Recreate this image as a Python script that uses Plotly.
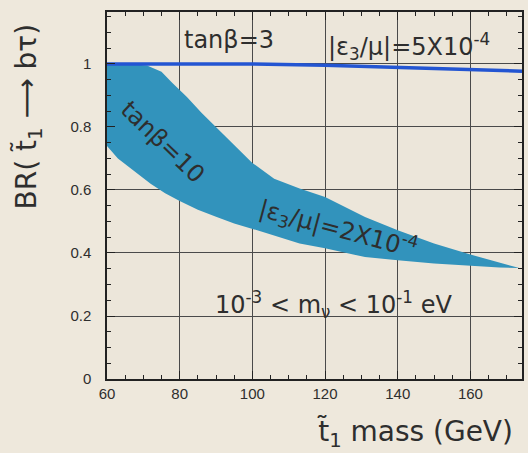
import plotly.graph_objects as go

# Band (tanβ=10, |ε3/μ|=2x10^-4) upper and lower boundaries
band_upper_x = [60, 66, 71, 75, 78, 82, 86, 90, 94, 100, 106, 113, 120, 131, 140, 150, 160, 168, 173.5]
band_upper_y = [1.0, 1.0, 0.995, 0.975, 0.94, 0.895, 0.845, 0.80, 0.755, 0.686, 0.636, 0.605, 0.578, 0.514, 0.472, 0.43, 0.395, 0.37, 0.353]
band_lower_x = [60, 63, 67, 72, 76, 80, 85, 90, 95, 104, 113, 120, 131, 140, 150, 160, 168, 173.5]
band_lower_y = [0.74, 0.70, 0.663, 0.62, 0.59, 0.565, 0.537, 0.515, 0.494, 0.463, 0.43, 0.415, 0.387, 0.377, 0.367, 0.36, 0.354, 0.352]

# Line (tanβ=3, |ε3/μ|=5x10^-4)
line_x = [60, 100, 120, 140, 160, 174.2]
line_y = [1.0, 1.0, 0.996, 0.99, 0.983, 0.977]

x_ticks = [60, 80, 100, 120, 140, 160]
y_ticks = [0, 0.2, 0.4, 0.6, 0.8, 1.0]
y_ticklabels = ["0", "0.2", "0.4", "0.6", "0.8", "1"]

FONT = "Liberation Sans, Arial, sans-serif"
AFONT = "DejaVu Sans, sans-serif"
BG = "#eee8dc"
TXT = "#2e2e2e"

fig = go.Figure()
fig.add_trace(go.Scatter(
    x=band_upper_x + band_lower_x[::-1],
    y=band_upper_y + band_lower_y[::-1],
    fill="toself", fillcolor="rgb(50,147,188)",
    line=dict(width=0), mode="lines", hoverinfo="skip", showlegend=False,
))
fig.add_trace(go.Scatter(
    x=line_x, y=line_y, mode="lines",
    line=dict(color="rgb(35,85,210)", width=3.5), showlegend=False,
))

axis_common = dict(
    showline=True, linecolor="#222", linewidth=1.5, mirror="allticks",
    ticks="inside", ticklen=8, tickcolor="#222", tickwidth=1,
    showgrid=True, gridcolor="#4a4a4a", gridwidth=1, zeroline=False,
    tickfont=dict(family=FONT, size=15, color=TXT),
)
fig.update_xaxes(range=[60, 174.2], tickvals=x_ticks, ticktext=[str(v) for v in x_ticks],
                 minor=dict(dtick=5, tick0=60, ticks="inside", ticklen=4, tickcolor="#222", showgrid=False),
                 ticklabelstandoff=0, **axis_common)
fig.update_yaxes(range=[0, 1.165], tickvals=y_ticks, ticktext=y_ticklabels,
                 minor=dict(dtick=0.05, tick0=0, ticks="inside", ticklen=4, tickcolor="#222", showgrid=False),
                 ticklabelstandoff=11, **axis_common)

ann_font = dict(family=AFONT, size=24, color=TXT)
annotations = [
    dict(x=93.7, y=1.076, text="tanβ=3", showarrow=False, font=ann_font),
    dict(x=143.0, y=1.054, text="|ε<sub>3</sub>/μ|=5X10<sup>-4</sup>", showarrow=False, font=ann_font),
    dict(x=75.3, y=0.752, text="tanβ=10", showarrow=False, textangle=44, font=ann_font),
    dict(x=123.6, y=0.478, text="|ε<sub>3</sub>/μ|=2X10<sup>-4</sup>", showarrow=False, textangle=15, font=ann_font),
    dict(x=122.2, y=0.235, text="10<sup>-3</sup> < m<sub>ν</sub> < 10<sup>-1</sup> eV", showarrow=False,
         font=dict(family=AFONT, size=24, color=TXT)),
    dict(xref="paper", yref="paper", x=(28 - 107) / 417, y=(379 - 117) / 367,
         xanchor="center", yanchor="middle",
         text="BR( t̃<sub>1</sub> ⟶ bτ)", textangle=-90, showarrow=False,
         font=dict(family=AFONT, size=28, color=TXT)),
    dict(xref="paper", yref="paper", x=(416 - 107) / 417, y=(379 - 433) / 367,
         xanchor="center", yanchor="middle",
         text="t̃<sub>1</sub> mass (GeV)", showarrow=False,
         font=dict(family=AFONT, size=28, color=TXT)),
]

fig.update_layout(
    width=528, height=453,
    margin=dict(l=107, r=4, t=12, b=74, pad=0),
    paper_bgcolor=BG, plot_bgcolor="#ece6da",
    annotations=annotations, showlegend=False,
)
fig.write_html("out.html")
